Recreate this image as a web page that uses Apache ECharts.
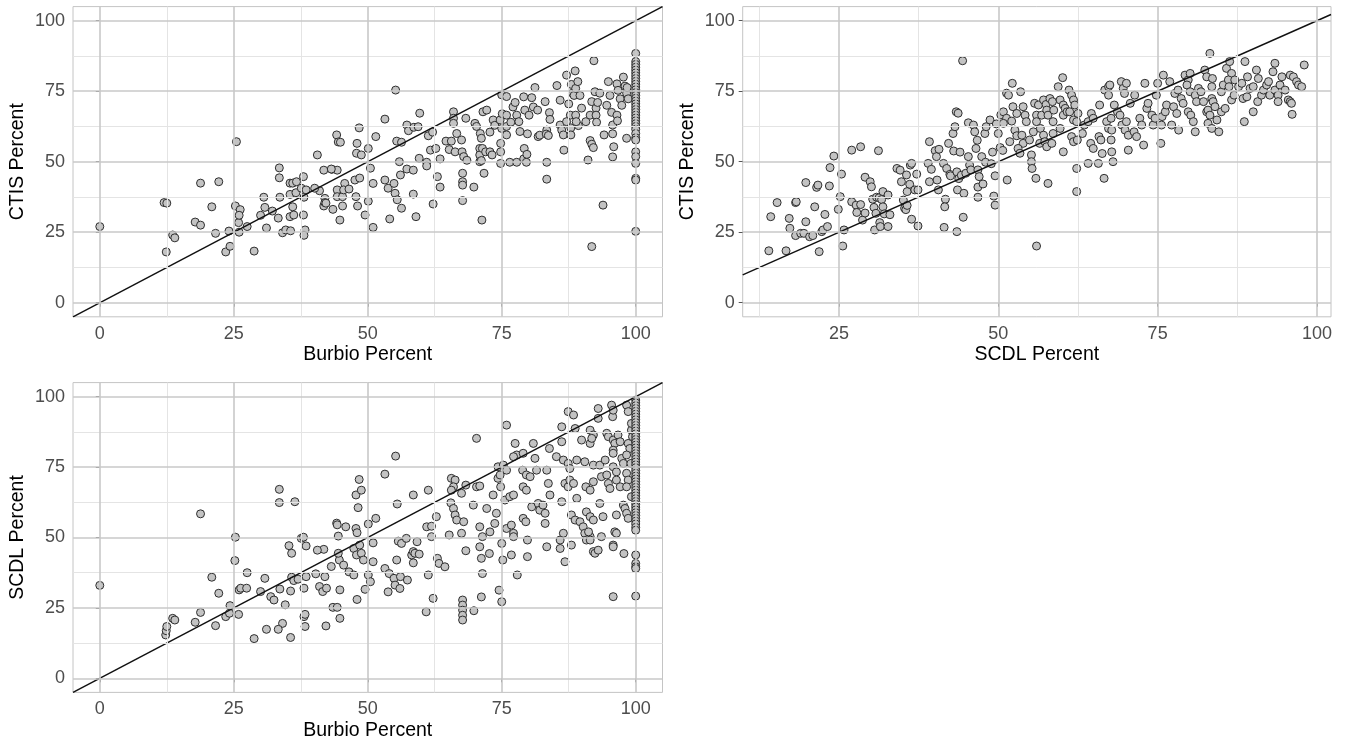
<!DOCTYPE html>
<html>
<head>
<meta charset="utf-8">
<script src="https://cdn.jsdelivr.net/npm/echarts@6/dist/echarts.min.js"></script>
<style>
html,body{margin:0;padding:0;background:#fff;}
#chart{width:1349px;height:743px;}
</style>
</head>
<body>
<div id="chart"></div>
<script>
// ---------- DATA ----------
const ticksFull = [0, 25, 50, 75, 100];
const ticksScdlX = [25, 50, 75, 100];
const rangeFull = [-5, 105];
const rangeScdlX = [9.9, 102.2];

// Panel 1: Burbio Percent (x) vs CTIS Percent (y)
const burbioCtis = [
[0,27],[12,35.5],[12.5,35.3],[12.4,18],[13.6,24],[14,23],[17.8,28.6],[18.8,27.5],[18.8,42.4],[20.9,34],[21.6,24.6],[22.2,42.9],[23.5,18],[24.3,20],[24.1,25.4],[25.3,34.3],[25.5,57.1],[25.9,28.4],[26,25],[26.2,33],[26,31],[27.5,27],[28.8,18.3],[30,31],[30.6,37.4],[30.8,33.8],[31.1,26.5],[32.2,32.5],[33.3,30],[33.5,47.8],[33.5,44.3],[33.6,37.4],[34.1,24.8],[34.7,25.8],[35.5,42.4],[36,42.4],[35.5,38.4],[35.5,30.5],[35.6,25.5],[36,34],[36.2,31.1],[36.7,42.9],[36.6,39],[37.6,40.6],[38,44.7],[38.1,37.4],[38,31.1],[38.3,25.8],[38.1,23.9],[38.5,40],[40.6,52.4],[41,39.7],[41.8,47],[42,37],[41.8,34.3],[42,35.5],[43.3,47.3],[43.5,33.1],[44.2,59.5],[44.3,47],[44.3,40],[44.3,37.6],[44.8,29.3],[44.5,57],
[40.1,40.6],[42.2,35.3],[43.2,47.4],[44.9,56.9],[45.3,37.6],[45.7,42.3],[45.5,40],[46.5,40.3],[45.3,34.3],[47.8,37.6],[48.1,34.3],[47.6,43.5],[48.5,44.2],[48,56.5],[48.4,62],[47.9,53],[48.8,52.4],[49.5,31.1],[50.1,36],[50.1,54.7],[50.5,47.7],[51,42.3],[51,26.7],[51.5,58.9],[53.2,65.1],[53.2,43.5],[53.8,40.6],[54.1,29.7],[54.9,42.3],[55.1,38.8],[55.5,36.5],[55.2,75.4],[55.4,57.3],[56.3,56.9],[55.9,50],[56.1,45.3],[56.3,33.5],[57.3,63],[57.6,61],[57.3,47.4],[58.5,47],[58.5,38.5],[58.6,62.2],[59.4,62.4],[59,30.5],[59.7,67.2],[59.6,51.2],[61,49.8],[61,48.5],[61.3,59.2],[62.1,60.5],[61.7,54.1],[62.7,54.7],[63.5,51],[63,44.7],[63.5,41],[62.2,35],[64.6,57.3],[65.2,54.3],[65.6,57.3],[66,67.7],[66,65.4],[66,63.6],[66.6,60],[66.3,53.5],[67.5,57.7],[67.6,53.5],[67.9,51.8],[67.7,45.9],[67.7,42.9],[67.7,41.7],[67.7,36.2],[68.5,50.5],[68.3,65.4],[70,63.6],[70.3,62.5],[69.8,41],[70.9,54.7],[70.9,52.4],[70.9,50],[71.3,29.3],[71.5,67.7],[71,60],
[71.7,45.9],[71.2,50.4],[71.2,58.3],[71.4,54.7],[72.2,68.3],[72,53.5],[72.8,60.5],[73.4,64.8],[73.7,62.9],[72.8,53.5],[73.2,52.4],[74.7,64.8],[75,61.8],[75,73.7],[75.9,73.1],[74.8,56.5],[74.8,53.5],[74.8,49.4],[75.1,67],[75.9,66.5],[75.9,62.5],[75.9,59.5],[76.5,49.8],[76.7,64],[77.1,69.4],[77.5,71],[77.8,49.8],[77.8,66.5],[78.2,64.2],[78.4,60.7],[79.1,73],[79.3,68.3],[79.2,54.7],[79.1,51],[79.6,49.8],[79.7,52.6],[79.8,59.9],[80.1,66.5],[80.6,72.7],[80.9,69.4],[81.2,76.3],[81.7,68.3],[81.8,58.9],[82.1,59.4],[83.1,71.3],[83.4,61.2],[83.3,59.8],[83.7,59.3],[83.4,49.8],[83.4,43.8],[83.9,67.4],[84,65],[85.3,77],[85.9,71.8],[85.9,63],[86.2,61.2],[86.5,59.5],[86.6,54.1],[87.1,80.7],[88,77.4],[88.2,74.3],[88.5,73.5],[88.8,76],[88.7,82.2],[89.2,78.4],[87.5,70.5],[87.8,66.5],[87.1,64.2],[87.9,62],[87.9,59.5],[88.8,66.5],[89.3,62.8],[89.6,73.5],[88.9,64.2],[91.1,50.6],[89.9,69],[90.7,64.2],[91.5,57.5],[91.8,56.2],[92.1,55],[91.5,66.5],[91.8,71.3],[92.4,74.8],[92.2,85.8],[92.6,69],[92.6,66.5],[92.7,64],[92.9,71],[93.3,74.3],[93.9,34.6],[94.1,59.5],[94.6,70],[94.9,78.4],[95.2,73.5],[95.5,67.5],[95.7,63],[95.7,59.9],[95.9,55.3],[95.7,51.7],[96.5,77.6],[96.7,75.3],[97.1,72.3],[96.5,66.5],[96.6,64.5],[97.7,80],[98,76.8],[97.4,70],[98.3,58.3],[98.3,74.3],[98.6,72.3],[98.4,76.3],[91.8,19.9],
[100,88.4],[100,85.5],[100,84.5],[100,83.5],[100,82.5],[100,81.5],[100,80.5],[100,79.5],[100,78.5],[100,77.5],[100,76.5],[100,75.5],[100,74.5],[100,73.5],[100,72.5],[100,71.5],[100,70.5],[100,69.5],[100,68.5],[100,67.5],[100,66.5],[100,65.5],[100,64.5],[100,63.5],[100,62.5],[100,61.5],[100,60],[100,58.5],[100,57.7],[100,53.5],[100,51.8],[100,49.4],[100,44.1],[100,43.5],[100,25.3]
];

// Panel 2: SCDL Percent (x) vs CTIS Percent (y)
const scdlCtis = [
[14,18.4],[14.3,30.5],[15.3,35.5],[16.7,18.4],[17.2,29.9],[17.3,26.4],[18.2,35.5],[18.3,35.8],[18.2,23.8],[19,24.6],[19.5,24.6],[19.8,42.6],[19.8,28.7],[20.4,23.4],[20.9,23.8],[21.2,34],[21.5,40.9],[21.7,41.7],[21.9,18.1],[22.3,25.2],[22.5,25.8],[22.8,31.3],[23.2,27],[23.5,41.4],[23.6,47.9],[24.2,52],[24.9,33.1],[25.2,37.6],[25.4,45.6],[25.6,20.1],[25.8,25.8],[27,54.1],[27,35.8],[27.7,34.6],[27.8,32],[28.4,55.3],[28.4,34.8],[28.7,29.3],[29.1,44.5],[29.1,31.8],[29.9,42.9],[30.1,41.1],[30.3,36.7],[30.5,33.8],[30.8,31.7],[30.6,25.8],[30.9,37.4],[31.3,37.2],[31.2,53.9],[31.4,28.4],[31.5,27],[31.7,36.6],[31.9,39.4],[31.9,34],[32.1,31.5],[32.7,38.2],[33,31.2],[32.7,27],[34.1,47.6],[34.6,47],[34.8,42.9],[35.1,36.4],[35.3,33.5],[35.5,33],[35.7,34.5],[35.6,45.3],[35.7,39.4],[36.1,42],[36.2,48.8],[36.4,49.4],[36.4,29.6],[36.9,40],[37.2,45.6],[37.4,40],[37.4,27.2],[39.2,57.1],[39,49.4],[39.2,42.9],[39.5,47.3],[40.1,53.9],[40.3,51.8],[40.4,43.5],[40.6,40],[40.7,54.4],[41.4,49.4],[41.5,26.7],[41.7,36.7],[41.6,34],[41.9,47.6],[42.2,56.5],[42.4,45.5],[42.5,45],[42.9,60],[43,53.8],[43.2,62.4],[43.4,67.7],[43.7,67.2],[43.5,25.2],[43.5,46.4],[43.6,40],[43.8,44],[44,53.4],[44.2,45.2],[44.4,85.8],[44.5,30.3],[44.6,38.8],[44.9,45.9],[45.3,51.8],[45.3,63.8],[45.5,48.8],[45.7,47.1],[46.1,63],[46.3,60.6],[46.5,54.7],[46.7,57.6],[46.8,47.1],[47,44.7],[46.8,41],[46.8,37.4],[47.4,51.8],[47.6,42.1],[47.9,60],[48.1,62.4],[48,49.8],[48.7,64.8],[48.9,49.3],[49.1,53.4],[49.3,37.8],[49.5,34.6],[49.5,45],[49.7,63.4],[50,60],[50.3,55],[50.7,54],[50.4,66.6],[50.8,67.7],[51.3,74.3],[51.4,43.5],
[52.2,77.8],[53.5,74.8],[51.6,73.6],[52.3,69.5],[52.9,67.1],[51.3,65.4],[50.8,63.6],[52.1,64.4],[53.9,69.5],[54.2,66.5],[54.4,64.2],[52.6,61.2],[52.9,59.2],[51.8,57.1],[53.7,59.4],[53.9,56.5],[53.1,54.7],[53.4,53],[54.9,57.7],[55.5,60.6],[55.2,52.4],[55.2,50],[55.3,47.6],[55.7,70.7],[56.3,70.1],[56,66.5],[56,64.2],[56.8,66.5],[57.1,71.9],[57.5,70.3],[57.6,68.3],[57.8,66.5],[56.6,61.8],[57.1,59.4],[56.5,56.5],[57.3,57.1],[57.6,55.3],[55.9,44.1],[57.8,42.3],[56,20.1],[58.1,72.4],[58.5,71.3],[58.7,68.3],[59.4,76.6],[60.1,79.8],[59.7,71.9],[60.2,70.1],[59.7,61.8],[58.6,64.2],[58.6,60],[58.4,56.5],[60.2,53.5],[60.2,66.5],[60.5,68.9],[60.8,67.7],[61.1,75.4],[61.5,73.6],[61.8,71.9],[62,70.1],[61.2,67.7],[61.8,64.8],[62.3,64.2],[61.5,58.9],[61.8,57.1],[62.3,47.6],[62.3,39.4],[62.5,67.1],[62.4,57.7],
[63.2,60],[63.5,63],[64.1,64.2],[64.1,49.4],[64.5,56.5],[64.9,54.7],[64.6,67.1],[64.9,65.4],[65.7,49.4],[65.8,58.9],[66.1,57.7],[65.9,70.1],[66.3,52.9],[66.6,44.1],[66.7,75.4],[67.3,76.6],[67.5,77.2],[67.3,73.6],[67,64.2],[67.3,61.8],[67.8,61.2],[67.7,65.4],[67.7,57.7],[67.8,53.5],[68,50],[68.2,70.1],[68.7,67.7],[69.1,66.5],[69.3,78.4],[69.6,76],[70.1,77.8],[69.8,74.2],[69.4,63],[69.9,61.2],[70.4,59.4],[70.1,64.2],[70.4,54.1],[70.7,70.7],[71.3,60.6],[71.7,58.9],[71.4,73.6],[72.2,65.4],[72.5,63],[72.8,55.9],[73,77.8],[73.3,68.9],[73.5,70.7],[74.1,66.5],[74.3,63],[74.6,65.4],[74.8,73.6],[75,77.8],[75.5,56.5],[75.6,63],[75.7,66],[75.9,80.7],[76.2,67.7],[76.4,70.1],[76.9,78.4],[77.2,63],[77.5,69.5],[77.7,74.2],[78.2,75.4],[78,67.1],[78.3,61.2],[78.7,72.4],[79,70.7],[79.3,80.7],[79.8,79],[80.1,81.3],[79.6,77.2],[80.1,74.8],[79.8,67.7],[80.2,66.5],[80.6,64.2],[80.9,60.6],[80.9,73.6],[81.1,71.3],[81.4,76],[81.8,74.8],[82.2,71.3],[82.4,82.5],[82.7,80.1],[82.7,67.7],[82.9,68.3],[83.2,66.5],[83.2,88.4],[82.9,63.6],[83.5,61.8],[83.5,72.4],[83.7,71.3],[83.6,79.5],[83.5,76.6],[84,69.5],[84.3,64.8],[84.6,60.6],[85,67.7],[85.6,68.9],[85,74.8],[85.3,77.2],[85.8,83.1],[86.3,85.5],[86.6,81.3],[86.1,79],[86.2,76.6],[86.6,71.9],[87,73.6],[87.1,79],[87.7,76.6],[88.2,77.8],[88.4,72.4],[89,73],[88.6,64.2],[88.7,85.5],[89.1,80.1],[89.5,76],[90,76.6],[90,67.7],[90.5,82.5],[90.8,79.5],[90.7,71.3],[91.3,73.6],[91.6,75.4],[92.1,77.2],[92.4,78.4],[92.6,73.6],[93.1,81.9],[93.4,84.9],[93.4,75.4],[93.9,73.6],[93.9,71.3],[94.2,77.2],[94.5,80.1],[95,75.4],[95.5,71.9],[95.8,71.3],[96,70.7],[95.8,80.7],[96.3,80.1],[96.1,66.8],[96.8,78.4],[97.1,77.2],[97.6,76.6],[98,84.3]
];

// Panel 3: Burbio Percent (x) vs SCDL Percent (y)
const burbioScdl = [
[0,33],[12.3,15.4],[12.4,16.9],[12.5,18.4],[13.6,21.3],[14,20.7],[17.8,19.9],[18.8,58.4],[18.8,23.4],[20.9,35.9],[21.6,18.7],[22.2,30.2],[23.5,21.9],[24.3,25.8],[24.2,23.1],[25.3,50.1],[25.2,41.8],[25.9,22.7],[26,31.4],[26.3,32],[27.4,32],[27.5,37.5],[28.8,14.1],[30,30.8],[30.8,35.5],[31.1,17.4],[31.9,29],[32.5,27.8],[33.5,67.1],[33.5,62.4],[33.6,31.7],[34.1,19.5],[33.3,17.4],[34.6,26.1],[35.3,47.1],[35.8,44.4],[35.6,31],[35.8,35.9],[36.2,34.7],[35.6,14.5],[36.4,62.7],[37,35.2],[37.6,49.7],[38,50.1],[38.1,21.9],[38.3,22.7],[38.3,18.4],[38.1,32],[38.5,36.1],[38.5,47],[40.3,37.1],[41,32.6],[41.6,30.8],[41.8,45.8],[42,36.1],[42.2,18.6],[42.3,32],[43.2,39.7],[43.5,25.2],[44.2,55.1],[44.3,54.5],[44.5,50.5],[44.7,42],[44.8,31.4],[44.8,21.3],
[40.6,45.5],[44.3,25.2],[44.5,44.4],[45.9,53.8],[45.5,40.2],[46.5,37.8],[47.4,36.7],[47.4,46.1],[47.9,43.8],[47.8,53.2],[48,51.7],[47.8,65.1],[48.2,60.6],[48.4,70.6],[48.8,66.8],[48.5,47.3],[48.8,44.4],[49.2,42],[48,28],[49.5,31.6],[50.1,54.8],[50.1,36.7],[50.5,34.3],[51,48.1],[51,41.4],[51.5,56.8],[53.2,72.5],[53.2,39],[54,37.2],[53.8,30.7],[54.9,35.5],[55.1,33.1],[55.4,42],[55.2,78.9],[55.5,61.9],[55.7,48.7],[56.3,47.9],[56,31.9],[56.1,36.1],[57.2,49.7],[57.4,34.9],[58.2,43.8],[58.5,45],[58.8,44.4],[58.5,65.1],[58.5,41],[59.2,48.5],[59.6,44.1],[61.3,66.8],[61,53.8],[61.9,54],[61.9,50.3],[61.3,36.7],[60.9,23.6],[62.2,28.4],[62.8,57.4],[63,42.6],[63.3,40.8],[64.4,39.6],[65.2,50.9],[65.6,71],[66.3,70.4],[66,68],[65.6,66.8],[65.5,62.3],[66,60.3],[66.3,58],[66.6,56.2],[67.5,65.7],[67.5,51.5],[67.7,27.8],[67.7,26],[67.7,24.2],[67.7,22.4],[67.7,20.7],[67.9,55.6],[68.3,45.3],[68.3,68.6],[69.7,61.5],[69.8,24],[70.3,85.2],[70.3,68],[70.9,68.3],[70.9,53.8],[70.9,46.7],[71.2,42.6],[71.4,37.2],[71.2,28.9],
[72.2,60.3],[71.4,50.3],[72.7,44.3],[72.8,52],[73.7,55],[73.4,65.1],[74,58.6],[74.3,71],[74.7,72.2],[74.3,75.1],[75.3,75.7],[74.8,68],[75,47.9],[75.2,42],[74.5,31.3],[75,27.2],[75.9,89.9],[75.9,73.9],[75.6,63.3],[76.5,64.5],[77.2,65.1],[75.9,53.2],[76.8,54.4],[77.2,51.5],[77.2,50.3],[76.8,43.8],[77.5,83.4],[77.8,79.3],[77.2,78.7],[77.9,36.7],[78.9,73.9],[79.6,72.2],[79,79.9],[79,68],[79.6,66.8],[79,56.8],[79.5,55.6],[79.8,49.1],[79.8,43.2],[80.3,71.6],[80.6,60.9],[80.9,83.4],[81.2,78.1],[81.5,73.9],[81.8,62.1],[82.1,59.7],[82.7,61.5],[83.1,55],[83.1,58.6],[83.4,73.9],[83.4,46.7],[83.7,69.2],[84,65.1],[83.9,81.6],[85.2,78.7],[86.2,84],[86.5,77.5],[86.2,89.3],[85.9,46.1],[85.9,49.1],[86.2,62.7],[86.5,51.5],[86.8,41.4],[86.8,69.2],[87.4,68],[87.4,94.7],[88.4,93.5],[87.4,76.3],[87.7,74.5],[87.7,70.4],[88.4,69.2],[88,58],[88.7,56.2],[88,47.3],[88.7,88.7],[89,77.5],[89,63.9],[89.6,55.6],[90.2,53.8],[90.5,51.5],[90.8,49.1],[91.5,50.3],[89.9,84.6],[90.5,76.9],[90.8,59.1],[91.5,57.4],[92.1,56.2],[90.7,68],[91.5,66.8],[91.5,88.1],[92.1,86.4],[91.5,83.4],[91.8,85.2],[91.2,52],[91.5,49.1],[92.1,45],[92.4,44.4],[93,45.5],[92.1,69.8],[92.1,75.7],[93,95.8],[93,92.3],[93.3,75.7],[93.3,62.1],[93.9,57.4],[93.6,71.6],[93.6,50.3],[94.3,77.5],[94.6,87],[94.9,85.8],[94.6,72.2],[94.9,69.2],[95.2,67.4],[95.5,97],[95.7,92.9],[95.8,95.2],[95.8,84.6],[96.1,83.4],[95.8,81],[95.8,79.9],[95.8,75.1],[96.4,73.3],[95.8,47.3],[95.8,46.7],[95.8,29],[96.1,52],[96.4,51.5],[96.4,58],[96.4,70.4],[97.1,68],[96.7,86.4],[97.1,84],[97.4,78.1],[97.7,76.3],[97.7,61.5],[98,60.3],[97.8,44.3],[98.3,58.6],[98.6,56.8],[98.3,97],[98.6,94.7],[98.3,72.8],[98.6,70.4],[98.3,68],[98.6,83.4],[98.9,81.6],[98.3,79.3],[99.1,76.3],[99.2,88.1],[99.4,85.8],[99.2,90.5],[99.2,64.5],
[100,98.8],[100,97.8],[100,96.8],[100,95.8],[100,94.8],[100,93.8],[100,92.8],[100,91.8],[100,90.8],[100,89.8],[100,88.8],[100,87.8],[100,86.8],[100,85.8],[100,84.8],[100,83.8],[100,82.8],[100,81.8],[100,80.8],[100,79.8],[100,78.8],[100,77.8],[100,76.8],[100,75.8],[100,74.8],[100,73.8],[100,72.8],[100,71.8],[100,70.8],[100,69.8],[100,68.8],[100,67.8],[100,66.8],[100,65.8],[100,64.8],[100,63.8],[100,62.8],[100,61.8],[100,60.8],[100,59.8],[100,58.8],[100,57.8],[100,56.8],[100,55.8],[100,54.8],[100,53.6],[100,52.6],[100,43.8],[100,40.8],[100,39.6],[100,39],[100,29.2]
];

const xNames = ['Burbio Percent', 'SCDL Percent', 'Burbio Percent'];
const yNames = ['CTIS Percent', 'CTIS Percent', 'SCDL Percent'];

// ---------- BUILD ----------
const FONT = '"Liberation Sans", Arial, Helvetica, sans-serif';
const grids = [
  {left: 73, top: 6.6, width: 589.5, height: 310.2},
  {left: 742.7, top: 6.6, width: 588.3, height: 310.2},
  {left: 73, top: 382.6, width: 589.5, height: 309.8}
];
const panels = [
  {pts: burbioCtis, xr: rangeFull, yr: rangeFull, xt: ticksFull, yt: ticksFull},
  {pts: scdlCtis, xr: rangeScdlX, yr: rangeFull, xt: ticksScdlX, yt: ticksFull},
  {pts: burbioScdl, xr: rangeFull, yr: rangeFull, xt: ticksFull, yt: ticksFull}
];

function minors(ticks, r) {
  const step = ticks[1] - ticks[0];
  const out = [];
  for (let v = ticks[0] - step / 2; v <= r[1]; v += step) {
    if (v >= r[0]) out.push(v);
  }
  return out;
}

const option = {
  animation: false,
  backgroundColor: '#ffffff',
  grid: grids.map(g => Object.assign({
    show: true, borderColor: '#c4c4c4', borderWidth: 1, backgroundColor: '#ffffff', containLabel: false
  }, g)),
  xAxis: [], yAxis: [], series: []
};

panels.forEach((p, i) => {
  const common = {
    type: 'value',
    gridIndex: i,
    nameLocation: 'middle',
    nameTextStyle: {fontFamily: FONT, fontSize: 19.5, color: '#000'},
    axisLine: {show: false},
    splitLine: {show: false},
    axisTick: {show: true, length: 4, lineStyle: {color: '#555', width: 1}},
    axisLabel: {fontFamily: FONT, fontSize: 18, color: '#4d4d4d'}
  };
  option.xAxis.push(Object.assign({}, common, {
    min: p.xr[0], max: p.xr[1], name: xNames[i], nameGap: 28,
    axisTick: Object.assign({}, common.axisTick, {customValues: p.xt}),
    axisLabel: Object.assign({}, common.axisLabel, {customValues: p.xt, margin: 8})
  }));
  option.yAxis.push(Object.assign({}, common, {
    min: p.yr[0], max: p.yr[1], name: yNames[i], nameGap: 45, nameRotate: 90,
    axisTick: Object.assign({}, common.axisTick, {customValues: p.yt}),
    axisLabel: Object.assign({}, common.axisLabel, {customValues: p.yt, margin: 8})
  }));
  const lineDefs = (vals, key, color, width) => vals.map(v => ({
    [key]: v, lineStyle: {color: color, width: width, type: 'solid'}
  }));
  option.series.push({
    type: 'scatter', xAxisIndex: i, yAxisIndex: i, data: [], z: 1, silent: true,
    markLine: {
      silent: true, symbol: ['none', 'none'], label: {show: false}, animation: false,
      data: [].concat(
        lineDefs(minors(p.xt, p.xr), 'xAxis', '#e4e4e4', 1),
        lineDefs(minors(p.yt, p.yr), 'yAxis', '#e4e4e4', 1),
        lineDefs(p.xt, 'xAxis', '#c8c8c8', 1.6),
        lineDefs(p.yt, 'yAxis', '#c8c8c8', 1.6)
      )
    }
  });
  option.series.push({
    type: 'scatter', xAxisIndex: i, yAxisIndex: i, z: 3,
    data: p.pts, symbol: 'circle', symbolSize: 8,
    itemStyle: {color: '#c3c3c3', borderColor: '#2e2e2e', borderWidth: 1, opacity: 1}
  });
  option.series.push({
    type: 'line', xAxisIndex: i, yAxisIndex: i, z: 4,
    data: [[p.xr[0], p.xr[0]], [p.xr[1], p.xr[1]]],
    symbol: 'none', lineStyle: {color: '#111111', width: 1.4}, silent: true
  });
});

const chart = echarts.init(document.getElementById('chart'), null, {renderer: 'canvas'});
chart.setOption(option);
</script>
</body>
</html>
